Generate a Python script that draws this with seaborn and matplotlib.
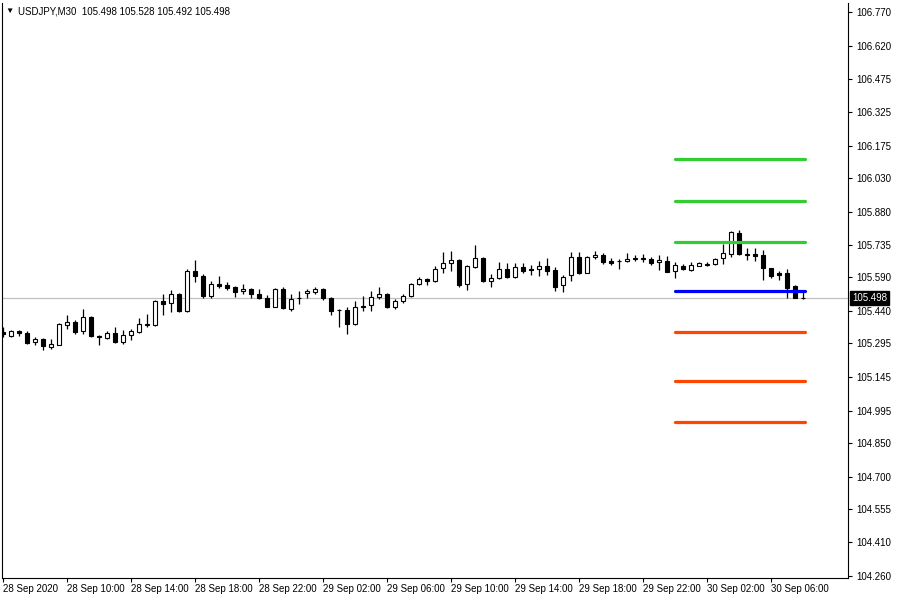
import numpy as np
import pandas as pd
import matplotlib
matplotlib.use("Agg")
import matplotlib.pyplot as plt
import matplotlib.transforms as mtransforms
import seaborn as sns

# ---------------- data (USDJPY M30, 28 Sep 06:00 -> 30 Sep 08:00) ----------------
opens = [105.346, 105.329, 105.351, 105.342, 105.302, 105.315, 105.280, 105.289, 105.378, 105.391,
         105.351, 105.413, 105.329, 105.320, 105.342, 105.302, 105.333, 105.346, 105.378, 105.378,
         105.484, 105.475, 105.515, 105.437, 105.618, 105.595, 105.507, 105.560, 105.555, 105.546,
         105.529, 105.538, 105.515, 105.498, 105.458, 105.538, 105.449, 105.496, 105.520, 105.524,
         105.538, 105.498, 105.444, 105.444, 105.382, 105.462, 105.466, 105.502, 105.515, 105.458,
         105.484, 105.507, 105.560, 105.582, 105.573, 105.631, 105.653, 105.667, 105.560, 105.636,
         105.676, 105.573, 105.587, 105.627, 105.591, 105.636, 105.627, 105.627, 105.640, 105.622,
         105.555, 105.600, 105.680, 105.609, 105.680, 105.689, 105.662, 105.660, 105.662, 105.672,
         105.676, 105.671, 105.658, 105.662, 105.618, 105.640, 105.622, 105.640, 105.644, 105.649,
         105.676, 105.693, 105.787, 105.693, 105.693, 105.689, 105.631, 105.609, 105.609, 105.551,
         105.498]
highs = [105.369, 105.355, 105.353, 105.351, 105.324, 105.318, 105.315, 105.386, 105.422, 105.400,
         105.449, 105.415, 105.331, 105.351, 105.369, 105.355, 105.360, 105.409, 105.426, 105.489,
         105.515, 105.533, 105.520, 105.627, 105.667, 105.604, 105.573, 105.595, 105.569, 105.551,
         105.560, 105.542, 105.538, 105.511, 105.542, 105.546, 105.515, 105.529, 105.538, 105.546,
         105.542, 105.502, 105.449, 105.458, 105.484, 105.507, 105.529, 105.546, 105.520, 105.493,
         105.515, 105.564, 105.591, 105.587, 105.640, 105.702, 105.707, 105.671, 105.644, 105.733,
         105.680, 105.604, 105.658, 105.653, 105.653, 105.653, 105.644, 105.662, 105.676, 105.636,
         105.600, 105.702, 105.702, 105.684, 105.707, 105.698, 105.676, 105.671, 105.698, 105.689,
         105.693, 105.680, 105.689, 105.684, 105.658, 105.649, 105.658, 105.658, 105.658, 105.676,
         105.738, 105.796, 105.800, 105.720, 105.720, 105.711, 105.633, 105.618, 105.627, 105.553,
         105.528]
lows = [105.324, 105.324, 105.329, 105.293, 105.289, 105.266, 105.271, 105.287, 105.360, 105.337,
        105.337, 105.324, 105.289, 105.315, 105.297, 105.293, 105.311, 105.342, 105.369, 105.373,
        105.422, 105.435, 105.435, 105.433, 105.569, 105.498, 105.498, 105.542, 105.533, 105.502,
        105.515, 105.498, 105.493, 105.458, 105.456, 105.449, 105.440, 105.471, 105.498, 105.515,
        105.489, 105.422, 105.369, 105.337, 105.378, 105.440, 105.440, 105.493, 105.453, 105.449,
        105.475, 105.502, 105.555, 105.555, 105.569, 105.609, 105.618, 105.546, 105.533, 105.631,
        105.569, 105.546, 105.582, 105.587, 105.587, 105.609, 105.600, 105.595, 105.600, 105.529,
        105.524, 105.573, 105.604, 105.609, 105.671, 105.649, 105.644, 105.627, 105.658, 105.662,
        105.658, 105.644, 105.622, 105.613, 105.587, 105.622, 105.618, 105.638, 105.640, 105.644,
        105.649, 105.680, 105.689, 105.667, 105.662, 105.578, 105.587, 105.578, 105.498, 105.498,
        105.492]
closes = [105.337, 105.351, 105.342, 105.297, 105.315, 105.284, 105.293, 105.382, 105.391, 105.346,
          105.413, 105.329, 105.324, 105.342, 105.302, 105.333, 105.351, 105.382, 105.382, 105.484,
          105.471, 105.515, 105.437, 105.618, 105.595, 105.507, 105.560, 105.551, 105.542, 105.524,
          105.538, 105.515, 105.498, 105.458, 105.538, 105.453, 105.493, 105.498, 105.529, 105.538,
          105.498, 105.440, 105.442, 105.382, 105.458, 105.458, 105.502, 105.515, 105.458, 105.484,
          105.507, 105.560, 105.582, 105.573, 105.627, 105.653, 105.667, 105.555, 105.640, 105.676,
          105.573, 105.587, 105.627, 105.591, 105.636, 105.618, 105.622, 105.640, 105.618, 105.546,
          105.591, 105.680, 105.609, 105.680, 105.689, 105.658, 105.655, 105.662, 105.671, 105.674,
          105.671, 105.653, 105.667, 105.613, 105.644, 105.627, 105.644, 105.653, 105.649, 105.671,
          105.698, 105.791, 105.693, 105.689, 105.684, 105.631, 105.595, 105.600, 105.542, 105.498,
          105.498]

x_tick_labels = ["28 Sep 2020", "28 Sep 10:00", "28 Sep 14:00", "28 Sep 18:00", "28 Sep 22:00",
                 "29 Sep 02:00", "29 Sep 06:00", "29 Sep 10:00", "29 Sep 14:00", "29 Sep 18:00",
                 "29 Sep 22:00", "30 Sep 02:00", "30 Sep 06:00"]
bars_per_label = 8

price_ticks = [106.770, 106.620, 106.475, 106.325, 106.175, 106.030, 105.880, 105.735, 105.590,
               105.440, 105.295, 105.145, 104.995, 104.850, 104.700, 104.555, 104.410, 104.260]

level_names = ["R3", "R2", "R1", "PP", "S1", "S2", "S3"]
level_values = [106.117, 105.930, 105.746, 105.528, 105.346, 105.128, 104.945]
level_colors = ["#32CD32", "#32CD32", "#32CD32", "#0000FF", "#FF4500", "#FF4500", "#FF4500"]
level_start_bar = 84

symbol_title = "USDJPY,M30  105.498 105.528 105.492 105.498"
last_price = 105.498

# ---------------- style ----------------
sns.set_theme(style="white")
plt.rcParams["font.family"] = ["Liberation Sans", "DejaVu Sans"]

fig = plt.figure(figsize=(9, 6), dpi=100)
fig.patch.set_facecolor("white")
ax = fig.add_axes([2 / 900, 22 / 600, 846 / 900, 575 / 600])
ax.set_facecolor("white")

df = pd.DataFrame({"bar": np.arange(len(opens)), "open": opens, "high": highs,
                   "low": lows, "close": closes})
up = df["close"] >= df["open"]
body_bottom = np.minimum(df["open"], df["close"])
body_height = (df["close"] - df["open"]).abs()

# current price line
ax.axhline(last_price, color="#C0C0C0", lw=0.9, zorder=1)

# wicks
ax.vlines(df["bar"], df["low"], df["high"], color="black", lw=0.9, zorder=2)
# bodies
ax.bar(df["bar"][up], body_height[up], bottom=body_bottom[up], width=0.5,
       color="white", edgecolor="black", linewidth=0.8, zorder=3)
ax.bar(df["bar"][~up], body_height[~up], bottom=body_bottom[~up], width=0.5,
       color="black", edgecolor="black", linewidth=0.8, zorder=3)

# pivot level lines
end_bar = len(opens) - 1 + 0.25
lvl_rows = []
for n, v in zip(level_names, level_values):
    lvl_rows.append({"level": n, "bar": level_start_bar, "price": v})
    lvl_rows.append({"level": n, "bar": end_bar, "price": v})
lvl_df = pd.DataFrame(lvl_rows)
sns.lineplot(data=lvl_df, x="bar", y="price", hue="level",
             palette=dict(zip(level_names, level_colors)), linewidth=2.3,
             legend=False, estimator=None, sort=False, ax=ax, zorder=4)

# ---------------- axes ----------------
px = (price_ticks[0] - price_ticks[-1]) / 563.0
ax.set_ylim(price_ticks[-1] - 2.5 * px, price_ticks[0] + 9.5 * px)
ax.set_xlim(-0.125, (848 - 3) / 8)
ax.set_xlabel("")
ax.set_ylabel("")

ax.yaxis.tick_right()
ax.set_yticks(price_ticks)
ax.set_yticklabels([f"{v:.3f}" for v in price_ticks])
ax.set_xticks(np.arange(len(x_tick_labels)) * bars_per_label)
ax.set_xticklabels(x_tick_labels)
for lbl in ax.get_xticklabels():
    lbl.set_ha("left")
ax.tick_params(axis="y", which="major", direction="out", length=3, width=0.8,
               pad=3, labelsize=7, colors="black", left=False, right=True)
ax.tick_params(axis="x", which="major", direction="out", length=3, width=0.8,
               pad=1.5, labelsize=7, colors="black", bottom=True)
for s in ["left", "right", "bottom"]:
    ax.spines[s].set_color("black")
    ax.spines[s].set_linewidth(0.8)
ax.spines["top"].set_visible(False)
ax.grid(False)

# current price tag
trans = mtransforms.blended_transform_factory(ax.transAxes, ax.transData)
ax.text((852 - 2) / 846, last_price, f"{last_price:.3f}", transform=trans,
        ha="left", va="center", color="white", fontsize=7, zorder=6,
        bbox=dict(boxstyle="square,pad=0.2", fc="black", ec="black"), clip_on=False)

# title
fig.text(5 / 900, 1 - 11 / 600, "\u25BC", fontsize=6, va="center", ha="left", color="black")
fig.text(18 / 900, 1 - 11 / 600, symbol_title, fontsize=7, va="center", ha="left", color="black")

fig.savefig("out.png", dpi=100)
